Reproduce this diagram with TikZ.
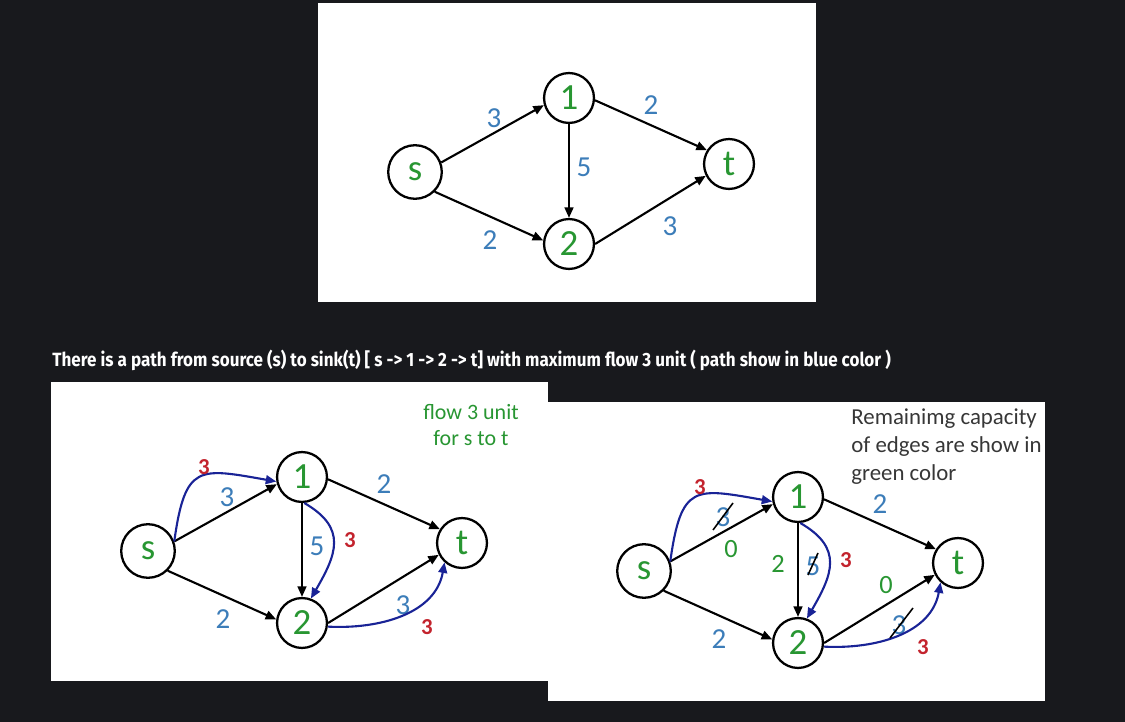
\documentclass[tikz,border=0pt]{standalone}
\usepackage{fontspec}
\setmainfont{Carlito}
\newfontfamily\headfont[FakeStretch=0.89]{Fira Sans}
\usetikzlibrary{positioning,arrows.meta}

\definecolor{bgdark}{RGB}{24,25,29}
\definecolor{nodegreen}{RGB}{40,150,50}
\definecolor{capblue}{RGB}{60,125,185}
\definecolor{flowred}{RGB}{195,35,45}
\definecolor{flowblue}{RGB}{25,35,150}
\definecolor{notegray}{RGB}{55,55,55}

\tikzset{
  vert/.style={circle,draw=black,line width=1.3pt,minimum size=28.4pt,inner sep=0pt,
    text=nodegreen,font=\fontsize{21}{21}\selectfont},
  edge/.style={line width=1.2pt,-{Triangle[length=6pt,width=5pt]}},
  flow/.style={draw=flowblue,line width=1.2pt,-{Triangle[length=6pt,width=5pt]}},
  capnum/.style={text=capblue,inner sep=0pt,font=\fontsize{16.5}{16.5}\selectfont},
  amount/.style={text=flowred,inner sep=0pt,font=\bfseries\fontsize{13}{13}\selectfont},
  rest/.style={text=nodegreen,inner sep=0pt,font=\fontsize{15}{15}\selectfont},
  strike/.style={line width=0.9pt},
  panel/.style={fill=white}}

% network s,1,2,t with its capacities; #1 prefix, (#2,#3) position of s
\newcommand{\netgraph}[3]{%
  \begin{scope}[shift={(#2,#3)}]
  \node[vert,minimum size=30.5pt] (#1-s) at (0,0) {s};
  \node[vert] (#1-1) at (154,74) {1};
  \node[vert] (#1-2) at (154,-72) {2};
  \node[vert] (#1-t) at (314,8) {t};
  \draw[edge] (#1-s.20) -- (#1-1.196);
  \draw[edge] (#1-s.-45) -- (#1-2.172);
  \draw[edge] (#1-1.-90) -- (#1-2.90);
  \draw[edge] (#1-1.-5) -- (#1-t.148);
  \draw[edge] (#1-2.0) -- (#1-t.207);
  \node[capnum] (#1-c1) at (79,54) {3};
  \node[capnum] (#1-c2) at (236,67) {2};
  \node[capnum] (#1-c3) at (169,5) {5};
  \node[capnum] (#1-c4) at (75,-68) {2};
  \node[capnum] (#1-c5) at (255,-54) {3};
  \end{scope}}

\begin{document}
\begin{tikzpicture}[x=0.02cm,y=0.02cm]
\fill[bgdark] (0,0) rectangle (1125,-722);
\useasboundingbox (0,0) rectangle (1125,-722);

\fill[panel] (318,-3) rectangle (816,-302);
\fill[panel] (51,-382) rectangle (548,-681);
\fill[panel] (548,-402) rectangle (1045,-701);

\netgraph{a}{415}{-172}
\netgraph{b}{148}{-551}
\netgraph{c}{644}{-571}

\node[anchor=west,inner sep=0pt,text=white,font=\headfont\bfseries\fontsize{10.9}{12}\selectfont]
  (head) at (52,-360) {There is a path from source (s) to sink(t) [ s -> 1 -> 2 -> t] with maximum flow 3 unit ( path show in blue color )};

% augmenting path s->1->2->t
\foreach \p/\x/\y in {b/148/-551,c/644/-571}{
  \draw[flow] (\p-s.20) to[out=82,in=170,looseness=1.7] (\p-1.190);
  \draw[flow] (\p-1.-85) to[out=-30,in=60,looseness=1.35] (\p-2.70);
  \draw[flow] (\p-2.-8) to[out=-3,in=-100] (\p-t.228);
  \begin{scope}[shift={(\x,\y)}]
  \node[amount] (\p-f1) at (56,84) {3};
  \node[amount] (\p-f2) at (202,11) {3};
  \node[amount] (\p-f3) at (279,-76) {3};
  \end{scope}
}

\node[text=nodegreen,align=center,font=\fontsize{12.5}{14.7}\selectfont] (note) at (471,-425) {flow 3 unit\\for s to t};

% residual capacities
\begin{scope}[shift={(644,-571)}]
\draw[strike] (69,41) -- (89,68);
\draw[strike] (164,-4) -- (174,18);
\draw[strike] (246,-67) -- (269,-37);
\node[rest] (c-r1) at (87,22) {0};
\node[rest] (c-r2) at (134,7) {2};
\node[rest] (c-r3) at (242,-14) {0};
\end{scope}
\node[anchor=north west,inner sep=0pt,align=left,text=notegray,font=\fontsize{13}{16}\selectfont]
  (remark) at (851,-408) {Remainimg capacity\\of edges are show in\\green color};
\end{tikzpicture}
\end{document}
